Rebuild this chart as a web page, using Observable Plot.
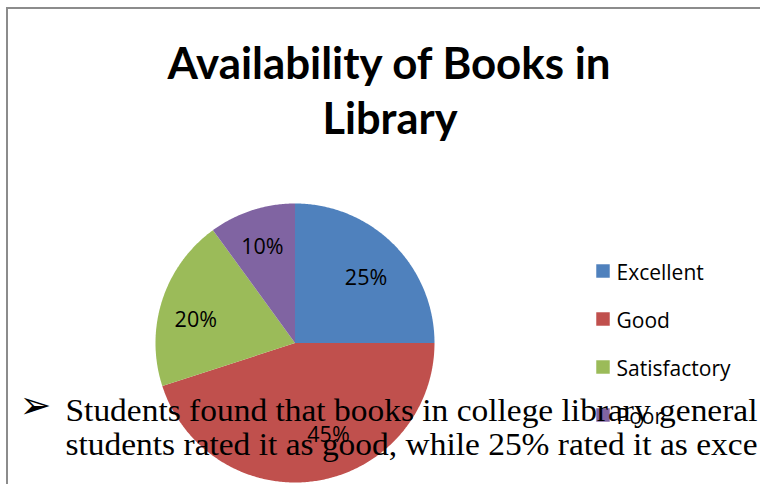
<!DOCTYPE html>
<html>
<head>
<meta charset="utf-8">
<script src="https://cdn.jsdelivr.net/npm/d3@7"></script>
<script src="https://cdn.jsdelivr.net/npm/@observablehq/plot@0.6"></script>
<style>
  html, body { margin: 0; padding: 0; background: #fff; }
  #chart { width: 760px; height: 484px; overflow: hidden; }
</style>
</head>
<body>
<div id="chart"></div>
<script>
// ---- data ----
const categories = ["Excellent", "Good", "Satisfactory", "Poor"];
const values = [25, 45, 20, 10];
const labels = ["25%", "45%", "20%", "10%"];
const colors = ["#4F81BD", "#C0504D", "#9BBB59", "#8064A2"];
const titleLines = ["Availability of Books in", "Library"];
const bodyLines = [
  "Students found that books in college library general",
  "students rated it as good, while 25% rated it as exce"
];

// ---- build slices (unit circle, clockwise from 12 o'clock) ----
const pie = d3.pie().sort(null).value(d => d.value);
const arcs = pie(categories.map((c, i) => ({category: c, value: values[i], label: labels[i]})));
const polyPts = [];
arcs.forEach(a => {
  const n = Math.max(8, Math.ceil((a.endAngle - a.startAngle) / 0.01));
  polyPts.push({category: a.data.category, x: 0, y: 0});
  for (let k = 0; k <= n; k++) {
    const t = a.startAngle + (a.endAngle - a.startAngle) * k / n;
    polyPts.push({category: a.data.category, x: Math.sin(t), y: Math.cos(t)});
  }
  polyPts.push({category: a.data.category, x: 0, y: 0});
});
const labelPts = arcs.map(a => {
  const m = (a.startAngle + a.endAngle) / 2;
  const k = 0.71;
  return {label: a.data.label, x: Math.sin(m) * k, y: Math.cos(m) * k};
});

// ---- layout ----
const W = 760, H = 484;
const cx = 294.5, cy = 342.5, R = 139.5;
const sans = "'Open Sans', Lato, sans-serif";
// small pixel nudges of the slice labels (Excel fits them in their slice)
const labelNudge = [[1, 5], [18, -6], [-5, 8], [-2, -2]];

const labelMarks = labelPts.map((p, i) =>
  Plot.text([p], {x: "x", y: "y", text: "label", dx: labelNudge[i][0], dy: labelNudge[i][1], fontSize: 21.5, fontFamily: sans, fill: "#000"})
);

const legendMarks = [];
categories.forEach((c, i) => {
  const yc = 270.5 + i * 48;
  legendMarks.push(Plot.dot([c], {frameAnchor: "top-left", dx: 602.5, dy: yc, symbol: "square", r: 7.6, fill: colors[i], stroke: null}));
  legendMarks.push(Plot.text([c], {frameAnchor: "top-left", lineAnchor: "middle", dx: 616, dy: yc + 1.8, text: d => d, textAnchor: "start", fontSize: 21, fontFamily: sans, fill: "#000"}));
});

const chart = Plot.plot({
  width: W,
  height: H,
  margin: 0,
  style: {background: "#fff", overflow: "hidden"},
  x: {domain: [-1, 1], range: [cx - R, cx + R], axis: null},
  y: {domain: [-1, 1], range: [cy + R, cy - R], axis: null},
  color: {domain: categories, range: colors},
  marks: [
    Plot.line(polyPts, {x: "x", y: "y", z: "category", fill: "category", stroke: null, curve: "linear"}),
    ...labelMarks,
    Plot.text([titleLines[0]], {frameAnchor: "top-left", lineAnchor: "middle", dx: 388.5, dy: 63.8, text: d => d, textAnchor: "middle", fontSize: 44.5, fontWeight: "bold", fontFamily: "Lato, sans-serif", fill: "#000"}),
    Plot.text([titleLines[1]], {frameAnchor: "top-left", lineAnchor: "middle", dx: 389.5, dy: 118.8, text: d => d, textAnchor: "middle", fontSize: 44.5, fontWeight: "bold", fontFamily: "Lato, sans-serif", fill: "#000"}),
    ...legendMarks,
    Plot.text(["➢"], {frameAnchor: "top-left", lineAnchor: "middle", dx: 35, dy: 405, text: d => d, textAnchor: "middle", fontSize: 38, fontFamily: "DejaVu Sans", fill: "#000"}),
    Plot.text([bodyLines[0]], {frameAnchor: "top-left", lineAnchor: "middle", dx: 65, dy: 410.5, text: d => d, textAnchor: "start", fontSize: 32.5, fontFamily: "'Liberation Serif', serif", fill: "#000"}),
    Plot.text([bodyLines[1]], {frameAnchor: "top-left", lineAnchor: "middle", dx: 65, dy: 444.5, text: d => d, textAnchor: "start", fontSize: 32.5, fontFamily: "'Liberation Serif', serif", fill: "#000"})
  ]
});

const svg = d3.select(chart);
// top and left border of the embedded chart frame
svg.insert("path", ":first-child")
  .attr("d", `M7,${H} L7,8 L${W},8`)
  .attr("fill", "none").attr("stroke", "#8c8c8c").attr("stroke-width", 2);
// stretch/condense text lines to the reference widths
const stretch = {[bodyLines[0]]: 692, [bodyLines[1]]: 692, [titleLines[0]]: 443, [titleLines[1]]: 135};
svg.selectAll("text").each(function () {
  const t = this.textContent;
  if (stretch[t]) d3.select(this).attr("textLength", stretch[t]).attr("lengthAdjust", "spacingAndGlyphs");
});

document.getElementById("chart").appendChild(chart);
</script>
</body>
</html>
